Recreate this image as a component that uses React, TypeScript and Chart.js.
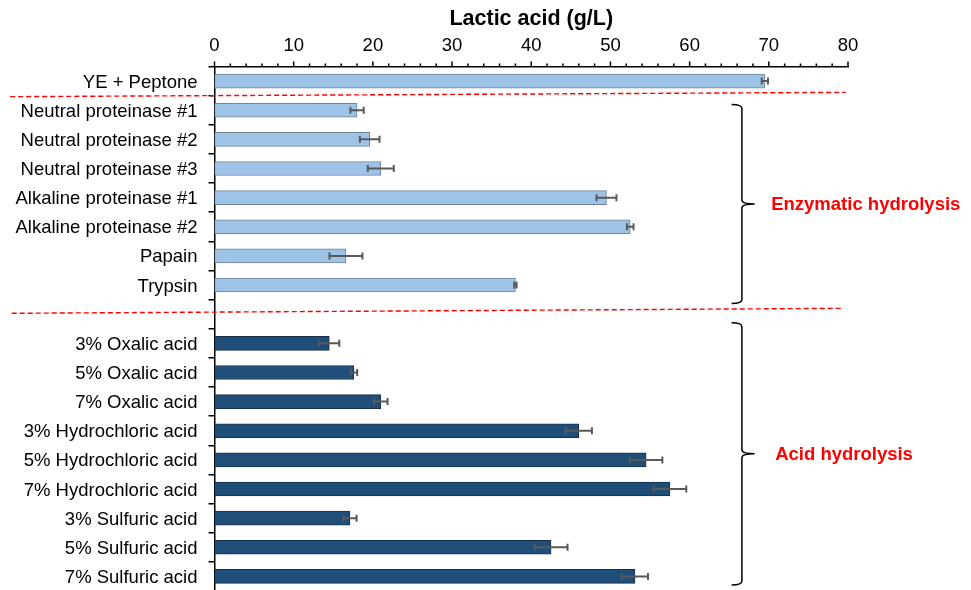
import React, { useEffect, useRef } from 'react';
import { Chart, registerables } from 'chart.js';

Chart.register(...registerables);

const FONT = '"Liberation Sans", Arial, sans-serif';

const categories = [
  'YE + Peptone',
  'Neutral proteinase #1',
  'Neutral proteinase #2',
  'Neutral proteinase #3',
  'Alkaline proteinase #1',
  'Alkaline proteinase #2',
  'Papain',
  'Trypsin',
  '',
  '3% Oxalic acid',
  '5% Oxalic acid',
  '7% Oxalic acid',
  '3% Hydrochloric acid',
  '5% Hydrochloric acid',
  '7% Hydrochloric acid',
  '3% Sulfuric acid',
  '5% Sulfuric acid',
  '7% Sulfuric acid',
];

const values: (number | null)[] = [
  69.5, 18.0, 19.6, 21.0, 49.5, 52.5, 16.6, 38.0, null,
  14.5, 17.6, 21.0, 46.0, 54.5, 57.5, 17.1, 42.5, 53.1,
];

const errors: (number | null)[] = [
  0.4, 0.84, 1.24, 1.64, 1.26, 0.42, 2.08, 0.15, null,
  1.26, 0.42, 0.85, 1.66, 2.06, 2.08, 0.84, 2.08, 1.64,
];

// group of each row: 0 = control / enzymatic (light), 1 = acid (dark)
const groups = [0, 0, 0, 0, 0, 0, 0, 0, 0, 1, 1, 1, 1, 1, 1, 1, 1, 1];

const xTickValues = [0, 10, 20, 30, 40, 50, 60, 70, 80];

const groupLabels = ['Enzymatic hydrolysis', 'Acid hydrolysis'];

const fillColors = ['#9DC3E6', '#1F4E79'];
const edgeColors = ['#71839a', '#17304a'];

const overlayPlugin = {
  id: 'overlay',
  afterDraw(chart: any) {
    const ctx: CanvasRenderingContext2D = chart.ctx;
    const xs = chart.scales.x;
    const ys = chart.scales.y;
    const area = chart.chartArea;
    ctx.save();

    // top axis tick marks (outward), minor every 2
    ctx.strokeStyle = '#000';
    ctx.lineWidth = 1.5;
    for (let v = xs.min; v <= xs.max; v += 2) {
      const px = xs.getPixelForValue(v);
      const len = v % 10 === 0 ? 5 : 3;
      ctx.beginPath();
      ctx.moveTo(px, area.top);
      ctx.lineTo(px, area.top - len);
      ctx.stroke();
    }

    // error bars
    const meta = chart.getDatasetMeta(0);
    ctx.strokeStyle = '#595959';
    ctx.lineWidth = 2;
    meta.data.forEach((bar: any, i: number) => {
      const v = values[i];
      const e = errors[i];
      if (v == null || e == null) return;
      const y = bar.y;
      const x1 = xs.getPixelForValue(v - e);
      const x2 = xs.getPixelForValue(v + e);
      ctx.beginPath();
      ctx.moveTo(x1, y);
      ctx.lineTo(x2, y);
      ctx.moveTo(x1, y - 3.5);
      ctx.lineTo(x1, y + 3.5);
      ctx.moveTo(x2, y - 3.5);
      ctx.lineTo(x2, y + 3.5);
      ctx.stroke();
    });

    // red dashed separators
    const seps = [
      { x1: -25.8, y1: 0.535, x2: 79.7, y2: 0.388 },
      { x1: -25.6, y1: 7.97, x2: 79.2, y2: 7.8 },
    ];
    ctx.strokeStyle = '#FF0000';
    ctx.lineWidth = 1.4;
    ctx.setLineDash([5, 3]);
    seps.forEach((s) => {
      ctx.beginPath();
      ctx.moveTo(xs.getPixelForValue(s.x1), ys.getPixelForValue(s.y1));
      ctx.lineTo(xs.getPixelForValue(s.x2), ys.getPixelForValue(s.y2));
      ctx.stroke();
    });
    ctx.setLineDash([]);

    // braces
    const braces = [
      { top: 0.8, bottom: 7.63, text: 0.3 },
      { top: 8.29, bottom: 17.29, text: 0.8 },
    ];
    const xHook = xs.getPixelForValue(65.3);
    const xLine = xs.getPixelForValue(66.6);
    const xTip = xs.getPixelForValue(68.2);
    ctx.strokeStyle = '#000';
    ctx.lineWidth = 1.5;
    braces.forEach((b, k) => {
      const yt = ys.getPixelForValue(b.top);
      const yb = ys.getPixelForValue(b.bottom);
      const ym = (yt + yb) / 2;
      const r = 4;
      ctx.beginPath();
      ctx.moveTo(xHook, yt);
      ctx.quadraticCurveTo(xLine, yt, xLine, yt + r);
      ctx.lineTo(xLine, ym - r);
      ctx.quadraticCurveTo(xLine, ym, xTip, ym);
      ctx.moveTo(xTip, ym);
      ctx.quadraticCurveTo(xLine, ym, xLine, ym + r);
      ctx.lineTo(xLine, yb - r);
      ctx.quadraticCurveTo(xLine, yb, xHook, yb);
      ctx.stroke();

      ctx.fillStyle = '#FF0000';
      ctx.font = 'bold 18.5px ' + FONT;
      ctx.textAlign = 'left';
      ctx.textBaseline = 'middle';
      ctx.fillText(groupLabels[k], xs.getPixelForValue(70 + b.text), ym + 1);
    });

    ctx.restore();
  },
};

export default function App() {
  const ref = useRef<HTMLCanvasElement | null>(null);

  useEffect(() => {
    if (!ref.current) return;
    const chart = new Chart(ref.current, {
      type: 'bar',
      data: {
        labels: categories,
        datasets: [
          {
            data: values as any,
            backgroundColor: groups.map((g) => fillColors[g]),
            borderColor: groups.map((g) => edgeColors[g]),
            borderWidth: 1,
            borderSkipped: false,
            barThickness: 14,
          },
        ],
      },
      options: {
        indexAxis: 'y',
        responsive: false,
        animation: false,
        devicePixelRatio: 1,
        layout: { padding: { left: 0, right: 123, top: 0, bottom: 1 } },
        plugins: {
          legend: { display: false },
          tooltip: { enabled: false },
        },
        scales: {
          x: {
            type: 'linear',
            position: 'top',
            min: xTickValues[0],
            max: xTickValues[xTickValues.length - 1],
            afterBuildTicks: (scale: any) => {
              scale.ticks = xTickValues.map((v) => ({ value: v }));
            },
            ticks: {
              font: { family: FONT, size: 18.5 },
              color: '#000',
              padding: 1,
              autoSkip: false,
              maxRotation: 0,
            },
            grid: { display: false },
            border: { display: true, color: '#000', width: 1.5 },
            title: {
              display: true,
              text: 'Lactic acid (g/L)',
              font: { family: FONT, size: 21.5, weight: 'bold' },
              color: '#000',
              padding: { top: 6, bottom: 0 },
            },
            afterFit: (scale: any) => {
              scale.height = 66.5;
              scale.paddingLeft = 0;
              scale.paddingRight = 0;
            },
          },
          y: {
            type: 'category',
            offset: true,
            ticks: {
              font: { family: FONT, size: 18.5 },
              color: '#000',
              padding: 11,
              labelOffset: 1.5,
              autoSkip: false,
            },
            grid: {
              offset: true,
              drawOnChartArea: false,
              drawTicks: true,
              tickLength: 6,
              color: '#000',
              lineWidth: 1.5,
            },
            border: { display: true, color: '#000', width: 1.5 },
            afterFit: (scale: any) => {
              scale.width = 214.5;
              scale.paddingTop = 0;
              scale.paddingBottom = 0;
            },
          },
        },
      } as any,
      plugins: [overlayPlugin],
    });
    return () => chart.destroy();
  }, []);

  return (
    <div
      style={{
        position: 'fixed',
        left: 0,
        top: 0,
        width: 971,
        height: 590,
        overflow: 'hidden',
        background: '#fff',
      }}
    >
      <canvas ref={ref} width={971} height={592} style={{ display: 'block' }} />
    </div>
  );
}
